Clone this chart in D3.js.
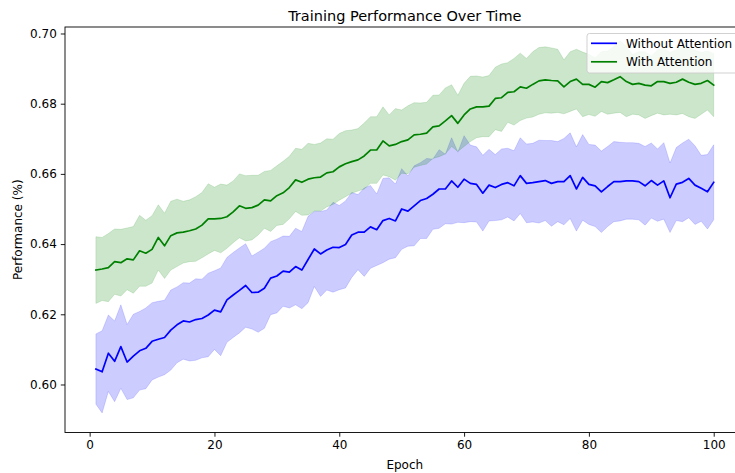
<!DOCTYPE html>
<html lang="en">
<head>
    <meta charset="UTF-8">
    <title>Training Performance Over Time</title>
    <style>
        body { margin: 0; background: #fff; font-family: "DejaVu Sans", sans-serif; }
        svg text { font-family: "DejaVu Sans", sans-serif; fill: #000; }
    </style>
    <script src="https://d3js.org/d3.v7.min.js"></script>
</head>
<body>
    <script>
        // epochs 1..100
        var epochs = d3.range(1, 101);

        var meanWithout = [
            0.6044, 0.6036, 0.6089, 0.6066, 0.6108, 0.6064, 0.6081, 0.6096, 0.6103, 0.6123,
            0.6129, 0.6134, 0.6155, 0.6170, 0.6181, 0.6178, 0.6185, 0.6188, 0.6198, 0.6212,
            0.6207, 0.6241, 0.6255, 0.6268, 0.6282, 0.6262, 0.6263, 0.6274, 0.6303, 0.6309,
            0.6323, 0.6320, 0.6336, 0.6326, 0.6356, 0.6386, 0.6372, 0.6383, 0.6391, 0.6390,
            0.6399, 0.6426, 0.6434, 0.6434, 0.6449, 0.6441, 0.6467, 0.6473, 0.6466, 0.6500,
            0.6494, 0.6509, 0.6524, 0.6530, 0.6542, 0.6557, 0.6557, 0.6580, 0.6562, 0.6585,
            0.6573, 0.6570, 0.6545, 0.6568, 0.6561, 0.6570, 0.6575, 0.6566, 0.6595, 0.6573,
            0.6575, 0.6578, 0.6581, 0.6573, 0.6578, 0.6578, 0.6595, 0.6557, 0.6590, 0.6570,
            0.6566, 0.6549, 0.6564, 0.6578, 0.6578, 0.6580, 0.6580, 0.6578, 0.6566, 0.6581,
            0.6568, 0.6580, 0.6532, 0.6571, 0.6576, 0.6587, 0.6568, 0.6559, 0.6549, 0.6576
        ];
        var stdWithout = [
            0.0100, 0.0117, 0.0109, 0.0115, 0.0119, 0.0107, 0.0119, 0.0112, 0.0115, 0.0110,
            0.0108, 0.0106, 0.0114, 0.0108, 0.0109, 0.0111, 0.0116, 0.0112, 0.0119, 0.0112,
            0.0125, 0.0121, 0.0121, 0.0121, 0.0119, 0.0104, 0.0114, 0.0114, 0.0104, 0.0105,
            0.0100, 0.0102, 0.0109, 0.0110, 0.0123, 0.0107, 0.0121, 0.0114, 0.0128, 0.0120,
            0.0124, 0.0121, 0.0107, 0.0126, 0.0118, 0.0102, 0.0120, 0.0116, 0.0105, 0.0115,
            0.0100, 0.0114, 0.0108, 0.0114, 0.0100, 0.0112, 0.0099, 0.0123, 0.0100, 0.0124,
            0.0109, 0.0107, 0.0108, 0.0102, 0.0094, 0.0101, 0.0098, 0.0100, 0.0108, 0.0112,
            0.0112, 0.0118, 0.0114, 0.0122, 0.0114, 0.0123, 0.0122, 0.0120, 0.0122, 0.0114,
            0.0116, 0.0116, 0.0114, 0.0114, 0.0112, 0.0109, 0.0109, 0.0109, 0.0112, 0.0107,
            0.0103, 0.0109, 0.0099, 0.0104, 0.0112, 0.0112, 0.0112, 0.0094, 0.0106, 0.0107
        ];
        var meanWith = [
            0.6326, 0.6329, 0.6333, 0.6350, 0.6347, 0.6358, 0.6355, 0.6381, 0.6374, 0.6385,
            0.6419, 0.6395, 0.6424, 0.6432, 0.6434, 0.6438, 0.6443, 0.6454, 0.6472, 0.6472,
            0.6473, 0.6478, 0.6492, 0.6509, 0.6502, 0.6504, 0.6511, 0.6526, 0.6523, 0.6538,
            0.6546, 0.6561, 0.6583, 0.6576, 0.6585, 0.6589, 0.6591, 0.6603, 0.6606, 0.6620,
            0.6629, 0.6635, 0.6640, 0.6651, 0.6668, 0.6668, 0.6694, 0.6680, 0.6684, 0.6692,
            0.6697, 0.6711, 0.6713, 0.6716, 0.6734, 0.6737, 0.6751, 0.6766, 0.6744, 0.6768,
            0.6785, 0.6791, 0.6791, 0.6793, 0.6815, 0.6817, 0.6832, 0.6834, 0.6848, 0.6844,
            0.6855, 0.6865, 0.6868, 0.6866, 0.6865, 0.6848, 0.6863, 0.6870, 0.6855, 0.6855,
            0.6847, 0.6863, 0.6860, 0.6868, 0.6877, 0.6863, 0.6855, 0.6858, 0.6853, 0.6851,
            0.6863, 0.6863, 0.6858, 0.6861, 0.6870, 0.6861, 0.6855, 0.6858, 0.6866, 0.6853
        ];
        var stdWith = [
            0.0095, 0.0090, 0.0097, 0.0093, 0.0095, 0.0088, 0.0095, 0.0101, 0.0094, 0.0096,
            0.0093, 0.0093, 0.0098, 0.0096, 0.0088, 0.0088, 0.0092, 0.0093, 0.0100, 0.0090,
            0.0098, 0.0090, 0.0088, 0.0091, 0.0093, 0.0092, 0.0085, 0.0081, 0.0087, 0.0085,
            0.0090, 0.0089, 0.0090, 0.0094, 0.0102, 0.0095, 0.0097, 0.0097, 0.0093, 0.0095,
            0.0094, 0.0090, 0.0089, 0.0094, 0.0095, 0.0095, 0.0097, 0.0088, 0.0102, 0.0090,
            0.0097, 0.0092, 0.0089, 0.0088, 0.0090, 0.0088, 0.0094, 0.0088, 0.0080, 0.0090,
            0.0093, 0.0088, 0.0085, 0.0087, 0.0089, 0.0096, 0.0085, 0.0095, 0.0096, 0.0085,
            0.0093, 0.0095, 0.0094, 0.0093, 0.0090, 0.0077, 0.0085, 0.0085, 0.0092, 0.0086,
            0.0083, 0.0085, 0.0090, 0.0095, 0.0102, 0.0100, 0.0085, 0.0090, 0.0095, 0.0085,
            0.0090, 0.0095, 0.0088, 0.0093, 0.0098, 0.0098, 0.0097, 0.0088, 0.0084, 0.0090
        ];

        var xTicks = [0, 20, 40, 60, 80, 100];
        var yTicks = [0.60, 0.62, 0.64, 0.66, 0.68, 0.70];
        var seriesNames = ["Without Attention", "With Attention"];
        var seriesColors = ["blue", "green"];

        var width = 735,
            height = 473,
            axLeft = 65,
            axRight = 744.6,   // axes runs past the right edge, as in the original crop
            axTop = 27,
            axBottom = 432.5;

        var svg = d3.select("body")
            .append("svg")
            .attr("width", width)
            .attr("height", height);

        var x = d3.scaleLinear().domain([-3.95, 104.95]).range([axLeft, axRight]);
        var y = d3.scaleLinear().domain([0.58632, 0.70185]).range([axBottom, axTop]);

        var series = [
            { name: seriesNames[0], color: seriesColors[0], mean: meanWithout, std: stdWithout },
            { name: seriesNames[1], color: seriesColors[1], mean: meanWith, std: stdWith }
        ];

        var area = d3.area()
            .x(d => x(d.e))
            .y0(d => y(d.m - d.s))
            .y1(d => y(d.m + d.s));
        var line = d3.line()
            .x(d => x(d.e))
            .y(d => y(d.m));

        series.forEach(function(s) {
            var pts = epochs.map((e, i) => ({ e: e, m: s.mean[i], s: s.std[i] }));
            svg.append("path")
                .attr("d", area(pts))
                .attr("fill", s.color)
                .attr("fill-opacity", 0.2)
                .attr("stroke", s.color)
                .attr("stroke-opacity", 0.2)
                .attr("stroke-width", 0.7);
            svg.append("path")
                .attr("d", line(pts))
                .attr("fill", "none")
                .attr("stroke", s.color)
                .attr("stroke-width", 1.7)
                .attr("stroke-linejoin", "round")
                .attr("stroke-linecap", "square");
        });

        // axes
        var xAxis = svg.append("g")
            .attr("transform", "translate(0," + axBottom + ")")
            .call(d3.axisBottom(x).tickValues(xTicks).tickSize(4.2).tickPadding(4).tickFormat(d3.format("d")));
        var yAxis = svg.append("g")
            .attr("transform", "translate(" + axLeft + ",0)")
            .call(d3.axisLeft(y).tickValues(yTicks).tickSize(4.2).tickPadding(4).tickFormat(d3.format(".2f")));
        [xAxis, yAxis].forEach(function(a) {
            a.select(".domain").remove();
            a.selectAll(".tick line").attr("stroke", "#000").attr("stroke-width", 0.9);
            a.selectAll(".tick text").style("font-size", "12px").attr("fill", "#000");
        });

        // spines
        svg.append("rect")
            .attr("x", axLeft).attr("y", axTop)
            .attr("width", axRight - axLeft).attr("height", axBottom - axTop)
            .attr("fill", "none")
            .attr("stroke", "#000")
            .attr("stroke-width", 0.9);

        svg.append("text")
            .attr("x", (axLeft + axRight) / 2).attr("y", 20.5)
            .attr("text-anchor", "middle")
            .style("font-size", "14.5px")
            .text("Training Performance Over Time");

        svg.append("text")
            .attr("x", (axLeft + axRight) / 2).attr("y", 468.5)
            .attr("text-anchor", "middle")
            .style("font-size", "12px")
            .text("Epoch");

        svg.append("text")
            .attr("transform", "translate(21.5," + (axTop + axBottom) / 2 + ") rotate(-90)")
            .attr("text-anchor", "middle")
            .style("font-size", "12px")
            .text("Performance (%)");

        // legend
        var legend = svg.append("g");
        legend.append("rect")
            .attr("x", 587).attr("y", 33.5)
            .attr("width", 160).attr("height", 39.5)
            .attr("rx", 2.5)
            .attr("fill", "#fff").attr("fill-opacity", 0.8)
            .attr("stroke", "#cccccc").attr("stroke-width", 0.9);
        series.forEach(function(s, i) {
            var ly = 43.3 + i * 18.5;
            legend.append("line")
                .attr("x1", 591).attr("x2", 617)
                .attr("y1", ly).attr("y2", ly)
                .attr("stroke", s.color).attr("stroke-width", 1.7);
            legend.append("text")
                .attr("x", 626).attr("y", ly + 4.3)
                .style("font-size", "12px")
                .text(s.name);
        });
    </script>
</body>
</html>
